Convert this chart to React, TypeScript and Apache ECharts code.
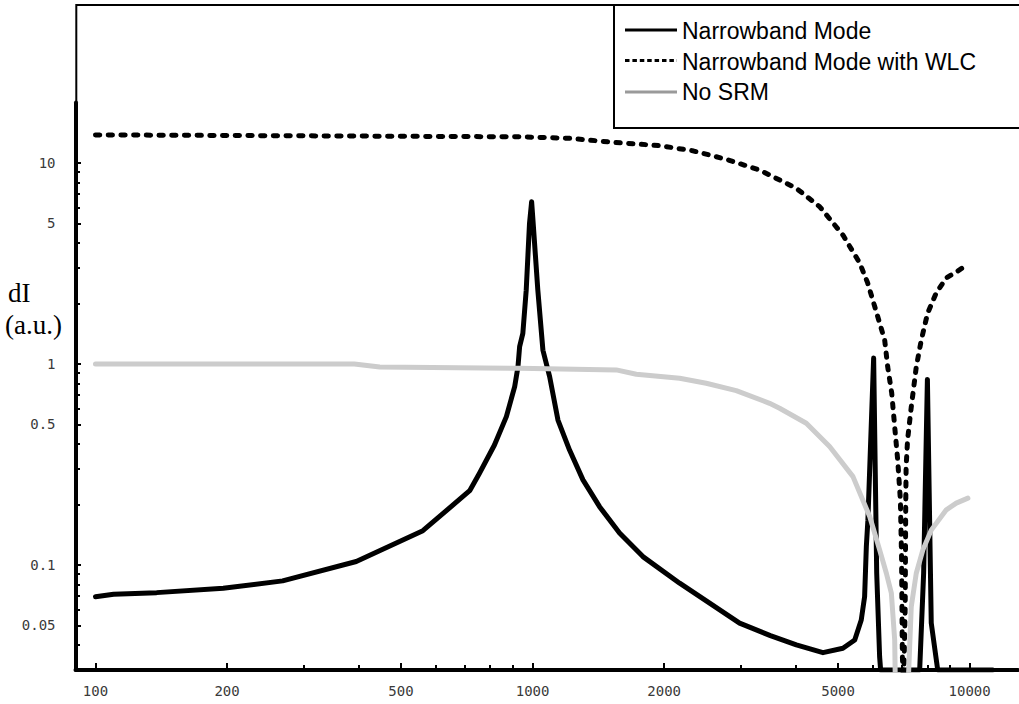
import React, { useEffect, useRef } from 'react';
import * as echarts from 'echarts';

// ---- data (frequency in Hz, dI in a.u.) ----
const nbFreq = [100, 110, 138, 196, 268, 395, 561, 718, 756, 818, 871, 910, 926, 934, 950, 967, 984, 995, 1002, 1028, 1056, 1094, 1143, 1215, 1304, 1423, 1581, 1788, 2170, 2976, 3500, 4013, 4617, 5129, 5458, 5649, 5750, 5802, 5850, 6030, 6128, 6223, 6256, 7685, 7847, 8004, 8100, 8168, 8451, 11290];
const nbVal = [0.0695, 0.0715, 0.0728, 0.0766, 0.0833, 0.104, 0.148, 0.234, 0.286, 0.395, 0.547, 0.771, 0.97, 1.22, 1.42, 2.33, 5.02, 6.42, 5.2, 2.33, 1.17, 0.865, 0.526, 0.373, 0.265, 0.195, 0.144, 0.11, 0.0811, 0.0513, 0.0445, 0.04, 0.0366, 0.0385, 0.0423, 0.0532, 0.0696, 0.123, 0.167, 1.07, 0.0909, 0.0349, 0.03, 0.03, 0.091, 0.838, 0.162, 0.0514, 0.03, 0.03];

const wlcFreq = [100, 934, 1215, 1527, 1953, 2327, 2775, 3307, 4013, 4538, 5129, 5603, 5843, 6128, 6391, 6494, 6632, 6738, 6844, 6942, 6985, 7016, 7060, 7120, 7140, 7155, 7210, 7352, 7548, 7751, 8013, 8387, 8842, 9318, 9617];
const wlcVal = [13.8, 13.5, 13.27, 12.68, 12.2, 11.5, 10.43, 9.22, 7.48, 6.06, 4.38, 3.18, 2.53, 1.79, 1.316, 0.966, 0.717, 0.486, 0.333, 0.211, 0.11, 0.035, 0.025, 0.062, 0.194, 0.307, 0.419, 0.611, 0.966, 1.316, 1.79, 2.26, 2.68, 2.87, 3.0];

const srmFreq = [100, 391, 447, 934, 1554, 1727, 2170, 2496, 2924, 3485, 3674, 4229, 4781, 5408, 5906, 6223, 6448, 6620, 6737, 6772, 7200, 7352, 7548, 7816, 8168, 8842, 9318, 9908];
const srmVal = [1.0, 1.0, 0.966, 0.952, 0.934, 0.889, 0.849, 0.802, 0.737, 0.637, 0.602, 0.507, 0.388, 0.275, 0.174, 0.1188, 0.0909, 0.0723, 0.0424, 0.02, 0.02, 0.062, 0.0909, 0.1188, 0.149, 0.188, 0.203, 0.215];

const seriesNames = ['Narrowband Mode', 'Narrowband Mode with WLC', 'No SRM'];

const xMajorTicks = [100, 200, 500, 1000, 2000, 5000, 10000];
const xMinorTicks = [300, 400, 600, 700, 800, 900, 3000, 4000, 6000, 7000, 8000, 9000];
const yMajorTicks = [0.05, 0.1, 0.5, 1, 5, 10];
const yMinorTicks = [0.04, 0.06, 0.07, 0.08, 0.09, 0.2, 0.3, 0.4, 0.6, 0.7, 0.8, 0.9, 2, 3, 4, 6, 7, 8, 9];

const X_MIN = 90;
const X_MAX = 12900;
const Y_MIN = 0.03;
const Y_MAX = 20;

const zip = (f: number[], v: number[]) => f.map((x, i) => [x, v[i]]);
const nearest = (ticks: number[], v: number) => {
  let best = ticks[0];
  ticks.forEach((t) => {
    if (Math.abs(Math.log10(t) - v) < Math.abs(Math.log10(best) - v)) best = t;
  });
  return String(best);
};

export default function App() {
  const ref = useRef<HTMLDivElement>(null);
  useEffect(() => {
    const chart = echarts.init(ref.current as HTMLDivElement, null, { renderer: 'svg' });
    const lx = Math.log10;
    const labelStyle = { fontFamily: '"DejaVu Sans Mono", monospace', fontSize: 14, color: '#3a3a3a' };
    const hiddenLine = { show: false, onZero: false };
    const textStyle = (font: string) => ({ font, fill: '#000', align: 'left', verticalAlign: 'middle', textAlign: 'left', textVerticalAlign: 'middle' });
    const legendFont = '23px "Liberation Sans", Arial, sans-serif';
    const unitFont = '27px "Liberation Serif", "Times New Roman", serif';
    const option: any = {
      animation: false,
      backgroundColor: '#fff',
      grid: { left: 75.5, top: 102.5, width: 942.5, height: 567.5, containLabel: false, outerBoundsMode: 'none' },
      xAxis: [
        {
          type: 'log', logBase: 10, min: X_MIN, max: X_MAX, position: 'bottom',
          axisLine: { show: true, onZero: false, lineStyle: { color: '#000', width: 4 } },
          axisTick: { show: false }, axisLabel: { show: false }, splitLine: { show: false },
        },
        {
          type: 'value', min: lx(X_MIN), max: lx(X_MAX), position: 'bottom',
          axisLine: hiddenLine, splitLine: { show: false },
          axisTick: { show: true, inside: true, length: 7, customValues: xMajorTicks.map(lx), lineStyle: { color: '#000', width: 2 } },
          axisLabel: { show: true, margin: 14, customValues: xMajorTicks.map(lx), formatter: (v: number) => nearest(xMajorTicks, v), ...labelStyle },
        },
        {
          type: 'value', min: lx(X_MIN), max: lx(X_MAX), position: 'bottom',
          axisLine: hiddenLine, splitLine: { show: false },
          axisTick: { show: true, inside: true, length: 5, customValues: xMinorTicks.map(lx), lineStyle: { color: '#000', width: 2 } },
          axisLabel: { show: false },
        },
      ],
      yAxis: [
        {
          type: 'log', logBase: 10, min: Y_MIN, max: Y_MAX, position: 'left',
          axisLine: { show: true, onZero: false, lineStyle: { color: '#000', width: 4 } },
          axisTick: { show: false }, axisLabel: { show: false }, splitLine: { show: false },
        },
        {
          type: 'value', min: lx(Y_MIN), max: lx(Y_MAX), position: 'left',
          axisLine: hiddenLine, splitLine: { show: false },
          axisTick: { show: true, inside: true, length: 5.5, customValues: yMajorTicks.map(lx), lineStyle: { color: '#000', width: 2 } },
          axisLabel: { show: true, margin: 20, customValues: yMajorTicks.map(lx), formatter: (v: number) => nearest(yMajorTicks, v), ...labelStyle },
        },
        {
          type: 'value', min: lx(Y_MIN), max: lx(Y_MAX), position: 'left',
          axisLine: hiddenLine, splitLine: { show: false },
          axisTick: { show: true, inside: true, length: 4.5, customValues: yMinorTicks.map(lx), lineStyle: { color: '#000', width: 2 } },
          axisLabel: { show: false },
        },
      ],
      graphic: [
        { type: 'polyline', z: 10, shape: { points: [[76.3, 102], [76.3, 5], [1019, 5]] }, style: { stroke: '#000', lineWidth: 2, fill: null } },
        { type: 'rect', z: 10, shape: { x: 614, y: 5, width: 420, height: 123 }, style: { fill: '#fff', stroke: '#000', lineWidth: 2 } },
        { type: 'line', z: 11, shape: { x1: 625, y1: 30, x2: 677, y2: 30 }, style: { stroke: '#000', lineWidth: 3 } },
        { type: 'line', z: 11, shape: { x1: 625, y1: 60.5, x2: 677, y2: 60.5 }, style: { stroke: '#000', lineWidth: 3, lineDash: [4.5, 2.9] } },
        { type: 'line', z: 11, shape: { x1: 625, y1: 92, x2: 677, y2: 92 }, style: { stroke: '#9a9a9a', lineWidth: 3 } },
        { type: 'text', z: 11, x: 682, y: 31, style: { text: seriesNames[0], ...textStyle(legendFont) } },
        { type: 'text', z: 11, x: 682, y: 61.5, style: { text: seriesNames[1], ...textStyle(legendFont) } },
        { type: 'text', z: 11, x: 682, y: 92, style: { text: seriesNames[2], ...textStyle(legendFont) } },
        { type: 'text', z: 11, x: 8, y: 293, style: { text: 'dI', ...textStyle(unitFont) } },
        { type: 'text', z: 11, x: 5, y: 325, style: { text: '(a.u.)', ...textStyle(unitFont) } },
      ],
      series: [
        {
          name: seriesNames[0], type: 'line', xAxisIndex: 0, yAxisIndex: 0, data: zip(nbFreq, nbVal),
          symbol: 'none', showSymbol: false, clip: true,
          lineStyle: { color: '#000', width: 5, cap: 'round', join: 'round' },
        },
        {
          name: seriesNames[1], type: 'line', xAxisIndex: 0, yAxisIndex: 0, data: zip(wlcFreq, wlcVal),
          symbol: 'none', showSymbol: false, clip: true,
          lineStyle: { color: '#000', width: 5, type: [4.3, 8.4], cap: 'round', join: 'round' },
        },
        {
          name: seriesNames[2], type: 'line', xAxisIndex: 0, yAxisIndex: 0, data: zip(srmFreq, srmVal),
          symbol: 'none', showSymbol: false, clip: true,
          lineStyle: { color: '#cccccc', width: 5, cap: 'round', join: 'round' },
        },
      ],
    };
    chart.setOption(option);
    return () => chart.dispose();
  }, []);
  return <div ref={ref} style={{ position: 'fixed', left: 0, top: 0, width: 1019, height: 704, background: '#fff' }} />;
}
